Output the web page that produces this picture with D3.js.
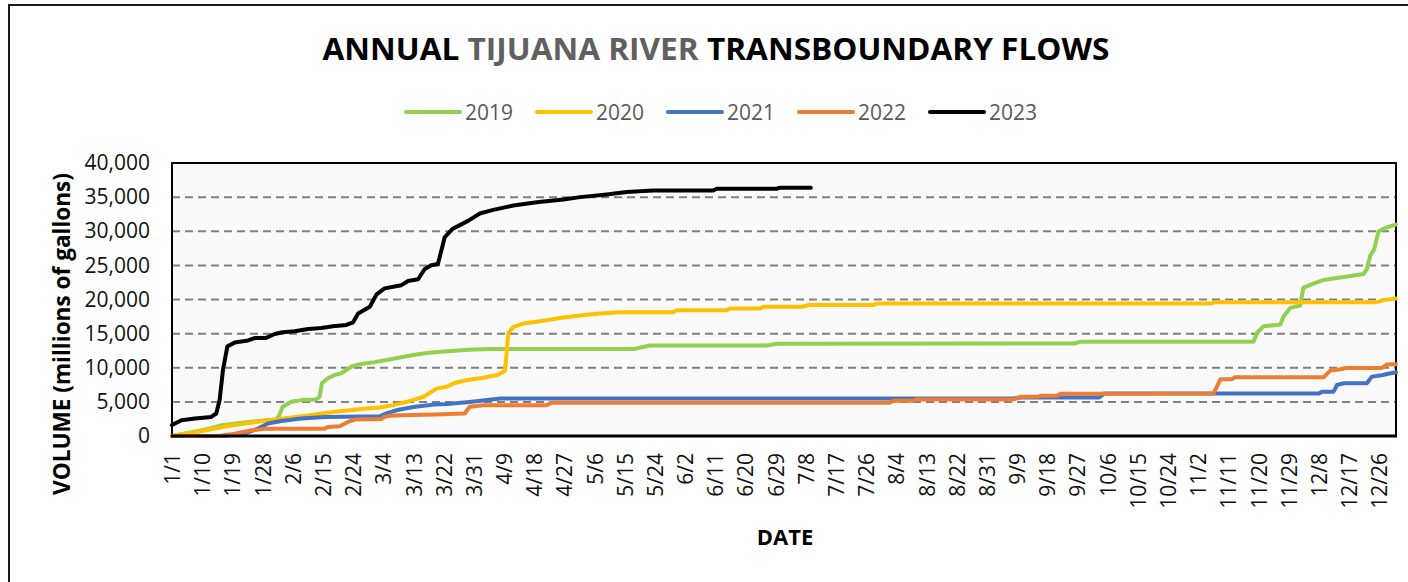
<!DOCTYPE html>
<html>
<head>
<meta charset="utf-8">
<script src="https://cdn.jsdelivr.net/npm/d3@7"></script>
<style>
body { margin: 0; background: #ffffff; }
svg { display: block; font-family: "Open Sans", sans-serif; }
</style>
</head>
<body>
<div id="canvas"></div>
<script>
// Donnees (jour de l'annee, volume en millions de gallons)
var annees = ["2019", "2020", "2021", "2022", "2023"];
var couleurs = ["#92d050", "#ffc000", "#4472c4", "#ed7d31", "#000000"];

var etiquettesDates = ["1/1", "1/10", "1/19", "1/28", "2/6", "2/15", "2/24", "3/4", "3/13", "3/22",
    "3/31", "4/9", "4/18", "4/27", "5/6", "5/15", "5/24", "6/2", "6/11", "6/20", "6/29", "7/8",
    "7/17", "7/26", "8/4", "8/13", "8/22", "8/31", "9/9", "9/18", "9/27", "10/6", "10/15", "10/24",
    "11/2", "11/11", "11/20", "11/29", "12/8", "12/17", "12/26"];
var graduationsVolume = [0, 5000, 10000, 15000, 20000, 25000, 30000, 35000, 40000];

var flux2019 = [[0, 0], [9, 840], [15, 1570], [19, 1820], [23, 2060], [28, 2310], [31, 2400], [32, 3050],
    [33, 4280], [35.6, 5010], [38.6, 5260], [43, 5360], [44, 5750], [44.7, 7720], [46.5, 8460], [48.5, 8950],
    [50.5, 9190], [53.5, 10180], [56.5, 10570], [60.4, 10820], [64.4, 11160], [68.4, 11550], [72.4, 11900],
    [77.3, 12240], [81.3, 12390], [88.3, 12630], [95, 12730], [137.6, 12730], [142.5, 13270], [177.3, 13270],
    [180.3, 13520], [269, 13560], [271, 13800], [322.5, 13800], [323.5, 15090], [325.5, 16080], [330.5, 16320],
    [331.5, 17550], [333.5, 18780], [336.4, 19120], [337.4, 21730], [340.4, 22320], [343.4, 22860],
    [347.4, 23150], [351.4, 23450], [355.3, 23740], [356.3, 24430], [357.3, 26400], [358.5, 27380],
    [359.8, 29990], [362.3, 30580], [365, 30970]];

var flux2020 = [[0, 0], [9, 740], [15, 1330], [23, 1920], [31, 2410], [41, 3050], [48.5, 3540], [58, 4030],
    [62, 4180], [66, 4520], [70, 5010], [72.5, 5360], [75, 5750], [79, 6980], [82, 7230], [84, 7720],
    [88, 8210], [92, 8460], [97, 8950], [99.3, 9540], [100.3, 15090], [101.8, 15980], [104.8, 16470],
    [109.7, 16810], [115.7, 17300], [121.7, 17650], [127.6, 17940], [133.6, 18140], [149.5, 18140],
    [150.5, 18440], [165.4, 18440], [166.4, 18680], [175.4, 18680], [176.4, 18930], [188, 18950],
    [190, 19200], [209, 19200], [210.5, 19420], [310, 19420], [311, 19610], [359.3, 19610], [361.3, 19910],
    [365, 20160]];

var flux2021 = [[0, 0], [15, 0], [21.5, 340], [25.6, 1080], [28.6, 1820], [32.6, 2210], [38.6, 2560],
    [45.5, 2800], [62, 2900], [64.4, 3390], [67.5, 3850], [72.5, 4280], [78.3, 4600], [82, 4700],
    [88, 4950], [94, 5260], [98, 5500], [251, 5500], [253, 5640], [276.5, 5640], [278, 6240], [342, 6240],
    [342.9, 6490], [346.4, 6490], [347.4, 7470], [349.4, 7720], [356.3, 7720], [357.8, 8700], [360.3, 8850],
    [362.3, 9090], [365, 9340]];

var flux2022 = [[0, 0], [14, 0], [18.7, 340], [23.7, 840], [28.6, 1080], [45.5, 1080], [46.5, 1330],
    [50, 1430], [52.5, 2060], [54.5, 2410], [62.4, 2480], [63.4, 2800], [65, 2950], [68.4, 3050],
    [78.3, 3150], [87.3, 3290], [88.8, 4280], [92.8, 4520], [111.7, 4520], [113.2, 4870], [214, 4870],
    [215, 5150], [221, 5150], [222, 5350], [251, 5350], [253, 5740], [258, 5740], [259, 5890], [264, 5890],
    [265, 6200], [310.6, 6240], [311.6, 7230], [312.6, 8310], [316, 8310], [317, 8600], [343.4, 8600],
    [345.4, 9590], [348.4, 9780], [350.4, 9980], [360.8, 9980], [362.3, 10480], [365, 10500]];

var flux2023 = [[0, 1600], [2.8, 2300], [6.8, 2550], [11.7, 2800], [13.2, 3300], [14.2, 5260], [15.2, 9700],
    [16.5, 13100], [18.7, 13700], [22.7, 14000], [24.6, 14350], [28, 14350], [30.6, 14950], [33, 15200],
    [36.6, 15340], [40.6, 15680], [44.5, 15830], [48, 16070], [52, 16270], [54, 16660], [55.5, 17940],
    [59, 18930], [61, 20750], [63.4, 21630], [68.4, 22100], [70.4, 22710], [73.4, 22960], [75.3, 24430],
    [77.3, 25020], [79.3, 25200], [81.3, 29100], [83.6, 30330], [88.4, 31560], [91.8, 32600], [95.5, 33100],
    [101.8, 33770], [108.8, 34260], [116.7, 34660], [121.7, 35000], [129.6, 35400], [135.6, 35740],
    [143.5, 35980], [161.4, 35980], [162.4, 36230], [180.3, 36230], [181.3, 36380], [190.5, 36380]];

var series = [flux2019, flux2020, flux2021, flux2022, flux2023];

// Variable globale
var contexte = {
    largeur: 1408,
    hauteur: 582,
    gauche: 172,
    droite: 1396,
    haut: 163,
    bas: 436
};

window.onload = function initialize () {
    contexte.svg = d3.select("#canvas").append("svg")
        .attr("width", contexte.largeur)
        .attr("height", contexte.hauteur);

    contexte.x = d3.scaleLinear().domain([0, 365]).range([contexte.gauche, contexte.droite]);
    contexte.y = d3.scaleLinear().domain([0, 40000]).range([contexte.bas, contexte.haut]);

    dessinerCadre();
    dessinerAxes();
    dessinerSeries();
    dessinerTextes();
}

// Jour de l'annee (2020, bissextile) pour une etiquette "m/j"
function jourDe (etiquette) {
    var p = etiquette.split("/");
    return d3.timeDay.count(new Date(2020, 0, 1), new Date(2020, +p[0] - 1, +p[1]));
}

function dessinerCadre () {
    var svg = contexte.svg;
    svg.append("rect")
        .attr("x", 9).attr("y", 5)
        .attr("width", 1420).attr("height", 620)
        .attr("fill", "#ffffff")
        .attr("stroke", "#1a1a1a").attr("stroke-width", 2);

    svg.append("rect")
        .attr("x", contexte.gauche).attr("y", contexte.haut)
        .attr("width", contexte.droite - contexte.gauche)
        .attr("height", contexte.bas - contexte.haut)
        .attr("fill", "#fafafa");
}

function dessinerAxes () {
    var svg = contexte.svg, x = contexte.x, y = contexte.y;

    // Grille pointillee
    svg.append("g").selectAll("line")
        .data(graduationsVolume.filter(function (v) { return v > 0 && v < 40000; }))
        .enter().append("line")
        .attr("x1", contexte.gauche).attr("x2", contexte.droite)
        .attr("y1", function (d) { return y(d); })
        .attr("y2", function (d) { return y(d); })
        .attr("stroke", "#808080")
        .attr("stroke-width", 2)
        .attr("stroke-dasharray", "8,5");

    // Axe vertical
    var axeY = svg.append("g")
        .attr("transform", "translate(" + contexte.gauche + ",0)")
        .call(d3.axisLeft(y).tickValues(graduationsVolume).tickFormat(d3.format(",")).tickSize(0).tickPadding(22));
    axeY.select(".domain").remove();
    axeY.selectAll("text")
        .style("font-family", "Open Sans")
        .style("font-size", "21px")
        .attr("fill", "#111111");

    // Axe horizontal (dates)
    var axeX = svg.append("g")
        .attr("transform", "translate(0," + contexte.bas + ")")
        .call(d3.axisBottom(x).tickValues(etiquettesDates.map(jourDe)).tickSize(0)
            .tickFormat(function (d, i) { return etiquettesDates[i]; }));
    axeX.select(".domain").remove();
    axeX.selectAll("text")
        .style("font-family", "Open Sans")
        .style("font-size", "21px")
        .attr("fill", "#111111")
        .attr("text-anchor", "end")
        .attr("transform", "rotate(-90)")
        .attr("x", -17)
        .attr("y", 0)
        .attr("dy", "0.36em");

    // Bordure de la zone de trace
    svg.append("rect")
        .attr("x", contexte.gauche).attr("y", contexte.haut)
        .attr("width", contexte.droite - contexte.gauche)
        .attr("height", contexte.bas - contexte.haut)
        .attr("fill", "none")
        .attr("stroke", "#000000").attr("stroke-width", 2);
}

function dessinerSeries () {
    var x = contexte.x, y = contexte.y;
    var ligne = d3.line()
        .x(function (d) { return x(d[0]); })
        .y(function (d) { return y(d[1]); });

    contexte.svg.append("g").selectAll("path")
        .data(series)
        .enter().append("path")
        .attr("d", ligne)
        .attr("fill", "none")
        .attr("stroke", function (d, i) { return couleurs[i]; })
        .attr("stroke-width", 4)
        .attr("stroke-linejoin", "round")
        .attr("stroke-linecap", "round");

    // Ligne d'axe du bas par dessus
    contexte.svg.append("line")
        .attr("x1", contexte.gauche - 1).attr("x2", contexte.droite + 1)
        .attr("y1", contexte.bas).attr("y2", contexte.bas)
        .attr("stroke", "#000000").attr("stroke-width", 3);
}

function dessinerTextes () {
    var svg = contexte.svg;

    // Titre
    var titre = svg.append("text")
        .attr("x", 716).attr("y", 60)
        .attr("text-anchor", "middle")
        .style("font-family", "Open Sans")
        .style("font-weight", "bold")
        .style("font-size", "30px")
        .attr("textLength", 787)
        .attr("lengthAdjust", "spacingAndGlyphs");
    titre.append("tspan").attr("fill", "#000000").text("ANNUAL ");
    titre.append("tspan").attr("fill", "#606060").text("TIJUANA RIVER");
    titre.append("tspan").attr("fill", "#000000").text(" TRANSBOUNDARY FLOWS");

    // Legende
    var legende = svg.append("g").selectAll("g")
        .data(annees)
        .enter().append("g")
        .attr("transform", function (d, i) { return "translate(" + (406 + i * 131) + ",112)"; });
    legende.append("line")
        .attr("x1", 0).attr("x2", 54)
        .attr("stroke", function (d, i) { return couleurs[i]; })
        .attr("stroke-width", 4)
        .attr("stroke-linecap", "round");
    legende.append("text")
        .attr("x", 59).attr("dy", "0.36em")
        .style("font-size", "21px")
        .attr("fill", "#595959")
        .text(function (d) { return d; });

    // Titres des axes
    svg.append("text")
        .attr("transform", "translate(70,334) rotate(-90)")
        .attr("text-anchor", "middle")
        .style("font-weight", "bold")
        .style("font-size", "23px")
        .attr("textLength", 322)
        .attr("lengthAdjust", "spacingAndGlyphs")
        .text("VOLUME (millions of gallons)");

    svg.append("text")
        .attr("x", 785).attr("y", 545)
        .attr("text-anchor", "middle")
        .style("font-weight", "bold")
        .style("font-size", "22px")
        .text("DATE");
}
</script>
</body>
</html>
